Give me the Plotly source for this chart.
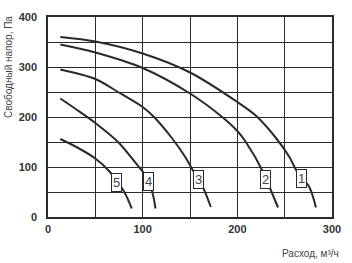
import plotly.graph_objects as go

# Curve data (flow m3/h, pressure Pa)
c1_x = [13, 50, 100, 150, 200, 220, 240, 255, 263, 276, 283]
c1_y = [360, 351, 327, 289, 230, 202, 160, 120, 91, 60, 19]
c2_x = [13, 50, 100, 150, 184, 200, 209, 227, 234, 243]
c2_y = [345, 329, 298, 247, 200, 172, 150, 91, 60, 19]
c3_x = [13, 50, 74, 100, 112, 130, 145, 153.5, 164, 172]
c3_y = [295, 276, 250, 220, 200, 160, 120, 92, 58, 20]
c4_x = [13, 30, 50, 74, 96, 100, 109.5, 113.6]
c4_y = [237, 215, 188, 150, 100, 91, 54, 17]
c5_x = [13, 30, 50, 65, 80, 88.5]
c5_y = [156, 140, 117, 91, 52, 17]

labels = ["1", "2", "3", "4", "5"]
label_x = [268, 230, 159, 106, 72]
label_y = [77, 76, 76, 71, 69]

x_ticks = [0, 100, 200, 300]
y_ticks = [0, 100, 200, 300, 400]

fig = go.Figure()
for xs, ys in [(c1_x, c1_y), (c2_x, c2_y), (c3_x, c3_y), (c4_x, c4_y), (c5_x, c5_y)]:
    fig.add_trace(go.Scatter(x=xs, y=ys, mode="lines",
                             line=dict(color="#2a2a2a", width=2, shape="spline", smoothing=0.9),
                             showlegend=False, hoverinfo="skip"))

for t, lx, ly in zip(labels, label_x, label_y):
    fig.add_annotation(x=lx, y=ly, text=t, showarrow=False,
                       font=dict(family="Liberation Sans, Arial", size=13, color="#444"),
                       bgcolor="white", bordercolor="#2a2a2a", borderwidth=1, borderpad=1)

fig.add_annotation(xref="paper", yref="paper", x=-0.141, y=0.75, text="Свободный напор, Па",
                   textangle=-90, showarrow=False, xanchor="center", yanchor="middle",
                   font=dict(family="Liberation Sans, Arial", size=10, color="#444"))
fig.add_annotation(xref="paper", yref="paper", x=0.925, y=-0.18, text="Расход, м³/ч",
                   showarrow=False, xanchor="center", yanchor="middle",
                   font=dict(family="Liberation Sans, Arial", size=10, color="#444"))

axis_common = dict(showline=True, linecolor="#2a2a2a", linewidth=1.5, mirror=True,
                   showgrid=True, gridcolor="#2a2a2a", gridwidth=1.3, zeroline=False,
                   tickfont=dict(family="Liberation Sans, Arial", size=11, color="#333", weight="bold"),
                   ticks="")

fig.update_layout(
    width=352, height=263,
    margin=dict(l=48, r=14, t=11, b=46),
    paper_bgcolor="white", plot_bgcolor="white",
    xaxis=dict(range=[0, 300], tickvals=x_ticks, ticklabelstandoff=1,
               minor=dict(dtick=50, showgrid=True, gridcolor="#2a2a2a", gridwidth=1.3),
               **axis_common),
    yaxis=dict(range=[0, 400], tickvals=y_ticks, ticklabelstandoff=7,
               minor=dict(dtick=50, showgrid=True, gridcolor="#2a2a2a", gridwidth=1.3),
               **axis_common),
)

fig.write_html("out.html")
